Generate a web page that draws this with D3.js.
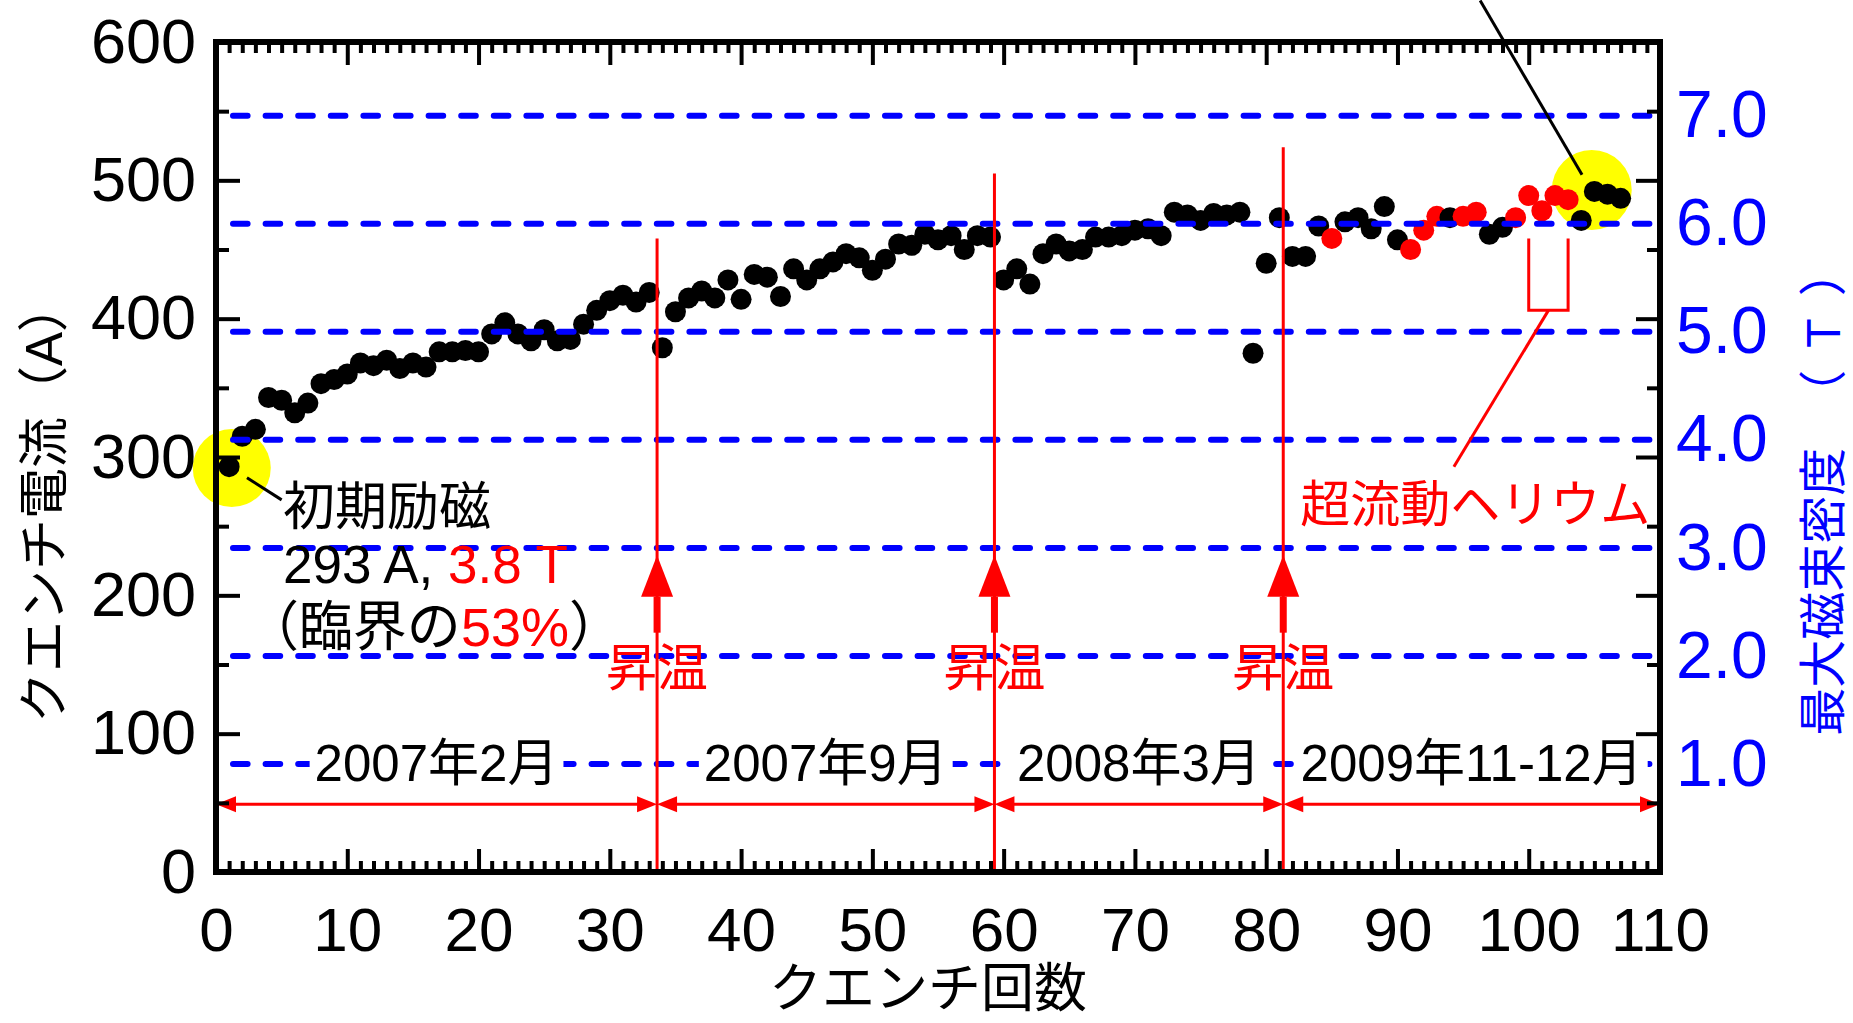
<!DOCTYPE html>
<html>
<head>
<meta charset="utf-8">
<script src="https://cdn.jsdelivr.net/npm/d3@7"></script>
<style>
  html, body { margin: 0; padding: 0; background: #fff; }
  svg { display: block; }
  text { font-family: "Liberation Sans", Arial, "Noto Sans CJK JP", sans-serif; }
</style>
</head>
<body>
<svg id="chart" width="1853" height="1023"></svg>
<script>
// Quench current (A) of each successive training quench, quench #1 .. #107
const quenchCurrent = [
  293, 315, 320, 343, 341, 332, 339, 353, 356, 360,
  368, 366, 370, 364, 368, 365, 376, 376, 377, 376,
  389, 397, 389, 384, 392, 384, 385, 396, 406, 413,
  417, 412, 419, 379, 405, 415, 420, 415, 428, 414,
  432, 430, 416, 436, 428, 436, 441, 447, 444, 435,
  443, 454, 453, 461, 457, 460, 450, 460, 459, 428,
  436, 425, 447, 454, 449, 450, 459, 459, 460, 464,
  465, 460, 477, 475, 471, 476, 475, 477, 375, 440,
  473, 445, 445, 467, 458, 470, 473, 465, 481, 457,
  450, 464, 474, 473, 474, 477, 461, 466, 473, 489,
  478, 489, 486, 471, 492, 490, 487
];
// Quenches taken in superfluid helium (drawn red)
const superfluidQuenches = [85, 91, 92, 93, 95, 96, 99, 100, 101, 102, 103];

// Axis ticks
const xTicks = [0, 10, 20, 30, 40, 50, 60, 70, 80, 90, 100, 110];
const yTicks = [0, 100, 200, 300, 400, 500, 600];
const yMinorTicks = [50, 150, 250, 350, 450, 550];
const fieldTicks = [1, 2, 3, 4, 5, 6, 7];
const fieldTickLabels = ["1.0", "2.0", "3.0", "4.0", "5.0", "6.0", "7.0"];
const ampsPerTesla = 78.1;   // peak field / current ratio of the magnet

// Warm-up cycles between test campaigns (quench-count position)
const warmUpAt = [33.6, 59.3, 81.3];
const warmUpLineTop = [458, 505, 524];
const campaignLabels = ["2007年2月", "2007年9月", "2008年3月", "2009年11-12月"];

const svg = d3.select("#chart");
const W = 1853, H = 1023;
const L = 216, R = 1660, T = 42, B = 872;

svg.append("rect").attr("width", W).attr("height", H).attr("fill", "#fff");

const x = d3.scaleLinear().domain([0, 110]).range([L, R]);
const y = d3.scaleLinear().domain([0, 600]).range([B, T]);
const yB = d3.scaleLinear().domain([0, 600 / ampsPerTesla]).range([B, T]);

const points = quenchCurrent.map((a, i) => ({ n: i + 1, a, sf: superfluidQuenches.includes(i + 1) }));

// Yellow highlights: first excitation and the final plateau
const highlights = [{ n: 1.2, a: 292, r: 39 }, { n: 104.8, a: 493, r: 40 }];
svg.append("g").selectAll("circle").data(highlights).join("circle")
  .attr("cx", d => x(d.n)).attr("cy", d => y(d.a)).attr("r", d => d.r)
  .attr("fill", "#ffff00");

// Quench points
svg.append("g").selectAll("circle").data(points).join("circle")
  .attr("cx", d => x(d.n)).attr("cy", d => y(d.a)).attr("r", 10.5)
  .attr("fill", d => d.sf ? "#ff0000" : "#000");

// Peak-field reference lines
svg.append("g").selectAll("line").data(fieldTicks).join("line")
  .attr("x1", L + 17).attr("x2", R)
  .attr("y1", d => yB(d)).attr("y2", d => yB(d))
  .attr("stroke", "#0000ff").attr("stroke-width", 6)
  .attr("stroke-dasharray", "14.6 18").attr("stroke-linecap", "round");

// Campaign labels sitting on the 1.0 T line
const segBounds = [0, ...warmUpAt, 110];
const labelG = svg.append("g");
campaignLabels.forEach((lab, i) => {
  const cx = (x(segBounds[i]) + x(segBounds[i + 1])) / 2;
  const g = labelG.append("g");
  const t = g.append("text").attr("x", cx).attr("y", yB(1))
    .attr("text-anchor", "middle").attr("dominant-baseline", "central")
    .attr("font-size", 51).attr("fill", "#000").text(lab);
  const bb = t.node().getBBox();
  g.insert("rect", "text").attr("x", bb.x - 5).attr("y", bb.y + 4)
    .attr("width", bb.width + 10).attr("height", bb.height - 8).attr("fill", "#fff");
});

// Warm-up vertical lines
svg.append("g").selectAll("line").data(warmUpAt).join("line")
  .attr("x1", d => x(d)).attr("x2", d => x(d))
  .attr("y1", (d, i) => y(warmUpLineTop[i])).attr("y2", y(0))
  .attr("stroke", "#ff0000").attr("stroke-width", 3);

// Double-headed period arrows
const arrowY = y(49);
const arrowG = svg.append("g").attr("fill", "#ff0000").attr("stroke", "#ff0000");
for (let i = 0; i < segBounds.length - 1; i++) {
  const a = x(segBounds[i]), b = x(segBounds[i + 1]);
  arrowG.append("line").attr("x1", a + 10).attr("x2", b - 10)
    .attr("y1", arrowY).attr("y2", arrowY).attr("stroke-width", 3);
  arrowG.append("path").attr("stroke", "none")
    .attr("d", `M${a},${arrowY} L${a + 20},${arrowY - 8} L${a + 20},${arrowY + 8} Z`);
  arrowG.append("path").attr("stroke", "none")
    .attr("d", `M${b},${arrowY} L${b - 20},${arrowY - 8} L${b - 20},${arrowY + 8} Z`);
}

// Warm-up arrows and labels
const upG = svg.append("g").attr("fill", "#ff0000");
warmUpAt.forEach(n => {
  const cx = x(n);
  upG.append("rect").attr("x", cx - 3.5).attr("y", y(199)).attr("width", 7)
    .attr("height", y(173) - y(199));
  upG.append("path")
    .attr("d", `M${cx},${y(229)} L${cx - 16},${y(199)} L${cx + 16},${y(199)} Z`);
  upG.append("text").attr("x", cx).attr("y", y(147))
    .attr("text-anchor", "middle").attr("dominant-baseline", "central")
    .attr("font-size", 51).text("昇温");
});

// Superfluid helium bracket and label
const bracket = [[100, 458], [100, 406], [103, 406], [103, 458]];
svg.append("path")
  .attr("d", d3.line().x(d => x(d[0])).y(d => y(d[1]))(bracket))
  .attr("fill", "none").attr("stroke", "#ff0000").attr("stroke-width", 3);
svg.append("line")
  .attr("x1", x(101.5)).attr("y1", y(406)).attr("x2", x(94.3)).attr("y2", y(293))
  .attr("stroke", "#ff0000").attr("stroke-width", 3);
svg.append("text").attr("x", x(82.6)).attr("y", y(265))
  .attr("dominant-baseline", "central").attr("font-size", 50)
  .attr("fill", "#ff0000").text("超流動ヘリウム");

// Leader to the final plateau
svg.append("line")
  .attr("x1", x(96.3)).attr("y1", y(630)).attr("x2", x(104.06)).attr("y2", y(504))
  .attr("stroke", "#000").attr("stroke-width", 3);

// First-excitation annotation
svg.append("line")
  .attr("x1", x(2.36)).attr("y1", y(285)).attr("x2", x(5.0)).attr("y2", y(269))
  .attr("stroke", "#000").attr("stroke-width", 3);
const ann = svg.append("g").attr("font-size", 52);
ann.append("text").attr("x", x(5.1)).attr("y", y(264)).attr("dominant-baseline", "central")
  .text("初期励磁");
const t2 = ann.append("text").attr("x", x(5.1)).attr("y", y(223)).attr("dominant-baseline", "central")
  .attr("font-size", 53);
t2.append("tspan").text("293 A, ");
t2.append("tspan").attr("fill", "#ff0000").text("3.8 T");
const t3 = ann.append("text").attr("x", x(2.2)).attr("y", y(177)).attr("dominant-baseline", "central")
  .attr("font-size", 54);
t3.append("tspan").text("（臨界の");
t3.append("tspan").attr("fill", "#ff0000").text("53%");
t3.append("tspan").text("）");

// Axes: ticks point inward on all four sides
function styleAxis(g, fontSize, color) {
  g.select(".domain").remove();
  g.selectAll(".tick line").attr("stroke", "#000").attr("stroke-width", 4);
  g.selectAll("text").attr("font-size", fontSize).attr("fill", color || "#000")
    .attr("font-family", null);
  g.attr("font-family", null);
}
const axes = svg.append("g");
axes.append("g").attr("transform", `translate(${L},0)`)
  .call(d3.axisLeft(y).tickValues(yMinorTicks).tickSize(-13).tickFormat(""))
  .call(g => styleAxis(g));
axes.append("g").attr("transform", `translate(${L},0)`)
  .call(d3.axisLeft(y).tickValues(yTicks).tickSize(-24).tickPadding(20))
  .call(g => styleAxis(g, 63));
axes.append("g").attr("transform", `translate(${R},0)`)
  .call(d3.axisRight(y).tickValues(yMinorTicks).tickSize(-13).tickFormat(""))
  .call(g => styleAxis(g));
axes.append("g").attr("transform", `translate(${R},0)`)
  .call(d3.axisRight(y).tickValues(yTicks).tickSize(-24).tickFormat(""))
  .call(g => styleAxis(g));
axes.append("g").attr("transform", `translate(${R},0)`)
  .call(d3.axisRight(yB).tickValues(fieldTicks).tickSize(0).tickPadding(16)
    .tickFormat((d, i) => fieldTickLabels[i]))
  .call(g => styleAxis(g, 66, "#0000ff"));

const xMinor = d3.range(0, 111).filter(v => v % 10 !== 0);
axes.append("g").attr("transform", `translate(0,${B})`)
  .call(d3.axisBottom(x).tickValues(xMinor).tickSize(-11).tickFormat(""))
  .call(g => styleAxis(g));
axes.append("g").attr("transform", `translate(0,${B})`)
  .call(d3.axisBottom(x).tickValues(xTicks).tickSize(-23).tickPadding(35))
  .call(g => styleAxis(g, 62));
axes.append("g").attr("transform", `translate(0,${T})`)
  .call(d3.axisTop(x).tickValues(xMinor).tickSize(-11).tickFormat(""))
  .call(g => styleAxis(g));
axes.append("g").attr("transform", `translate(0,${T})`)
  .call(d3.axisTop(x).tickValues(xTicks).tickSize(-23).tickFormat(""))
  .call(g => styleAxis(g));

axes.append("rect").attr("x", L).attr("y", T).attr("width", R - L).attr("height", B - T)
  .attr("fill", "none").attr("stroke", "#000").attr("stroke-width", 6);

// Axis titles
svg.append("text").attr("x", (L + R) / 2 - 10).attr("y", 988)
  .attr("text-anchor", "middle").attr("dominant-baseline", "central")
  .attr("font-size", 53).text("クエンチ回数");
svg.append("text").attr("transform", `translate(44,502) rotate(-90)`)
  .attr("text-anchor", "middle").attr("dominant-baseline", "central")
  .attr("font-size", 51).text("クエンチ電流（A）");
const rt = svg.append("text").attr("transform", `translate(1823,492) rotate(-90)`)
  .attr("text-anchor", "middle").attr("dominant-baseline", "central")
  .attr("font-size", 48).attr("fill", "#0000ff");
rt.append("tspan").text("最大磁束密度");
rt.append("tspan").attr("dx", 30).text("（");
rt.append("tspan").attr("dx", 22).text("T");
rt.append("tspan").attr("dx", 22).text("）");
</script>
</body>
</html>
